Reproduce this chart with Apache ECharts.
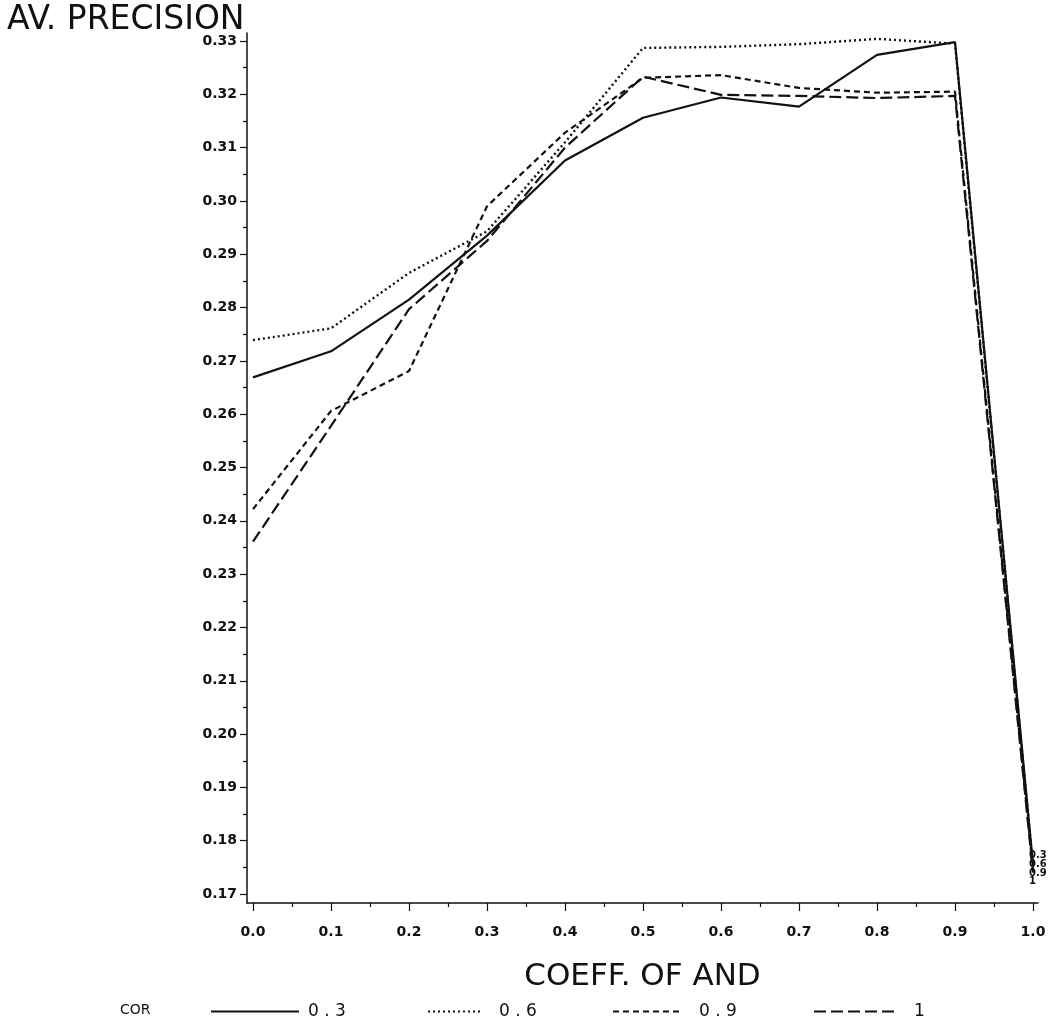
<!DOCTYPE html>
<html>
<head>
<meta charset="utf-8">
<script src="https://cdn.jsdelivr.net/npm/echarts@6/dist/echarts.min.js"></script>
<style>
  html, body { margin: 0; padding: 0; background: #fff; }
  #chart { width: 1054px; height: 1025px; }
</style>
</head>
<body>
<div id="chart"></div>
<script>
// Coefficient of AND (x) versus average precision, one line per COR setting
const coeff = [0.0, 0.1, 0.2, 0.3, 0.4, 0.5, 0.6, 0.7, 0.8, 0.9, 1.0];
const cor03 = [0.2669, 0.2718, 0.2815, 0.2935, 0.3076, 0.3156, 0.3194, 0.3177, 0.3274, 0.3298, 0.1755];
const cor06 = [0.2739, 0.2761, 0.2865, 0.2943, 0.3110, 0.3287, 0.3289, 0.3294, 0.3304, 0.3295, 0.1750];
const cor09 = [0.2422, 0.2606, 0.2681, 0.2990, 0.3128, 0.3231, 0.3236, 0.3212, 0.3203, 0.3205, 0.1745];
const cor1  = [0.2361, 0.2578, 0.2797, 0.2925, 0.3100, 0.3233, 0.3199, 0.3197, 0.3193, 0.3197, 0.1740];

const seriesNames = ['0.3', '0.6', '0.9', '1'];
const xTicks = [0.0, 0.1, 0.2, 0.3, 0.4, 0.5, 0.6, 0.7, 0.8, 0.9, 1.0];
const xMinor = [0.05, 0.15, 0.25, 0.35, 0.45, 0.55, 0.65, 0.75, 0.85, 0.95];
const yTicks = [0.17, 0.18, 0.19, 0.20, 0.21, 0.22, 0.23, 0.24, 0.25, 0.26, 0.27, 0.28, 0.29, 0.30, 0.31, 0.32, 0.33];
const yMinor = [0.175, 0.185, 0.195, 0.205, 0.215, 0.225, 0.235, 0.245, 0.255, 0.265, 0.275, 0.285, 0.295, 0.305, 0.315, 0.325];

const X_MIN = -0.0077, X_MAX = 1.0064;
const Y_MIN = 0.16832, Y_MAX = 0.3315;

const ink = '#111';
const sans = '"DejaVu Sans", "Liberation Sans", Arial, sans-serif';
const tickFont = { color: ink, fontFamily: sans, fontWeight: 'bold', fontSize: 14 };

function pairs(vals) { return coeff.map((c, i) => [c, vals[i]]); }

const styles = [
  { type: 'solid', width: 2.2 },
  { type: [2, 3], width: 2.4 },
  { type: [6, 4], width: 2.2 },
  { type: [12, 5], width: 2.2 }
];
const dataSets = [cor03, cor06, cor09, cor1];
const endOffsets = [[-12, -9], [-12, -3], [-12, 3], [-12, 9]];

// one legend block per series so each key sample can have its own length
const legendSlots = [
  { left: 205, width: 88, pad: 4 },
  { left: 422, width: 53, pad: 13 },
  { left: 607, width: 68, pad: 13 },
  { left: 808, width: 82, pad: 13 }
];

const chart = echarts.init(document.getElementById('chart'), null, { renderer: 'canvas' });

chart.setOption({
  backgroundColor: '#fff',
  animation: false,
  title: {
    text: 'AV. PRECISION',
    left: 2, top: -1,
    textStyle: { color: ink, fontFamily: sans, fontWeight: 'normal', fontSize: 33 }
  },
  grid: { left: 247, right: 16, top: 33, bottom: 122 },
  legend: seriesNames.map((name, i) => ({
    left: legendSlots[i].left, top: 998,
    itemWidth: legendSlots[i].width, itemHeight: 10,
    data: [name],
    itemStyle: { opacity: 0 },
    selectedMode: false,
    textStyle: { color: ink, fontFamily: sans, fontSize: 17, padding: [0, 0, 0, legendSlots[i].pad] },
    formatter: n => n.split('').join(' ')
  })),
  graphic: [{
    type: 'text', left: 120, top: 1003,
    style: { text: 'COR', fill: ink, font: '14px "DejaVu Sans", sans-serif' }
  }],
  xAxis: [{
    type: 'value', min: X_MIN, max: X_MAX,
    name: 'COEFF. OF AND', nameLocation: 'middle', nameGap: 58,
    nameTextStyle: { color: ink, fontFamily: sans, fontSize: 31 },
    axisLine: { show: true, onZero: false, lineStyle: { color: ink, width: 1.5 } },
    axisTick: { show: true, length: 8, customValues: xTicks, lineStyle: { color: ink, width: 1.2 } },
    axisLabel: { customValues: xTicks, margin: 22, formatter: v => v.toFixed(1), ...tickFont },
    splitLine: { show: false }
  }, {
    type: 'value', min: X_MIN, max: X_MAX, position: 'bottom',
    axisLine: { show: false, onZero: false },
    axisTick: { show: true, length: 4, customValues: xMinor, lineStyle: { color: ink, width: 1.2 } },
    axisLabel: { show: false },
    splitLine: { show: false }
  }],
  yAxis: [{
    type: 'value', min: Y_MIN, max: Y_MAX,
    axisLine: { show: true, onZero: false, lineStyle: { color: ink, width: 1.5 } },
    axisTick: { show: true, length: 7, customValues: yTicks, lineStyle: { color: ink, width: 1.2 } },
    axisLabel: { customValues: yTicks, margin: 10, formatter: v => v.toFixed(2), ...tickFont },
    splitLine: { show: false }
  }, {
    type: 'value', min: Y_MIN, max: Y_MAX, position: 'left',
    axisLine: { show: false, onZero: false },
    axisTick: { show: true, length: 4, customValues: yMinor, lineStyle: { color: ink, width: 1.2 } },
    axisLabel: { show: false },
    splitLine: { show: false }
  }],
  series: seriesNames.map((name, i) => ({
    name,
    type: 'line',
    xAxisIndex: 0, yAxisIndex: 0,
    data: pairs(dataSets[i]),
    symbol: 'none',
    lineStyle: { color: ink, ...styles[i] },
    itemStyle: { color: ink },
    endLabel: {
      show: true,
      formatter: p => p.seriesName,
      offset: endOffsets[i],
      color: ink, fontSize: 10, fontWeight: 'bold',
      fontFamily: sans
    }
  }))
});
</script>
</body>
</html>
